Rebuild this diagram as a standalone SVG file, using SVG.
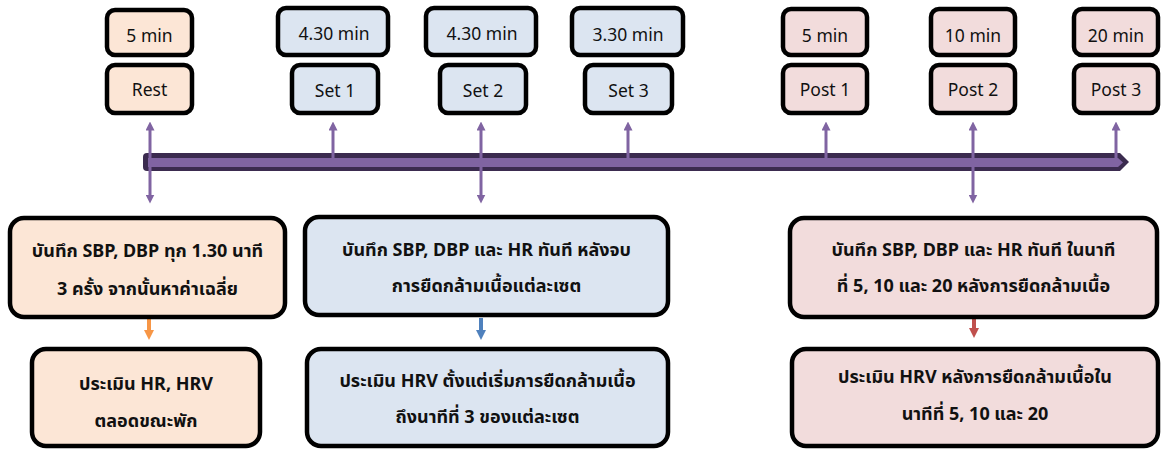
<svg xmlns="http://www.w3.org/2000/svg" width="1164" height="449" viewBox="0 0 1164 449">
<style>
.box{stroke:#000;stroke-width:4.5}
.or{fill:#fce6d6}
.bl{fill:#dce5f1}
.pk{fill:#f2dcdc}
.t{font-family:"Noto Sans","Noto Sans Thai","Leelawadee UI","Tahoma",sans-serif;font-size:17.5px;fill:#111;text-anchor:middle}
.b{font-family:"Noto Sans","Noto Sans Thai","Leelawadee UI","Tahoma",sans-serif;font-size:18px;font-weight:bold;fill:#111;text-anchor:middle}
.pu{stroke:#8064a2;stroke-width:3;fill:none}
</style>
<defs>
<marker id="ap" viewBox="0 0 10 10" refX="5" refY="5" markerWidth="3" markerHeight="3" orient="auto"><path d="M0,0 L10,5 L0,10 z" fill="#8064a2"/></marker>
<marker id="ao" viewBox="0 0 10 10" refX="5" refY="5" markerWidth="2.5" markerHeight="2.5" orient="auto"><path d="M0,0 L10,5 L0,10 z" fill="#f79646"/></marker>
<marker id="ab" viewBox="0 0 10 10" refX="5" refY="5" markerWidth="2.5" markerHeight="2.5" orient="auto"><path d="M0,0 L10,5 L0,10 z" fill="#4f81bd"/></marker>
<marker id="ar" viewBox="0 0 10 10" refX="5" refY="5" markerWidth="2.5" markerHeight="2.5" orient="auto"><path d="M0,0 L10,5 L0,10 z" fill="#c0504d"/></marker>
</defs>

<g id="timeline">
<path d="M147,153 L1120,153 L1129,162 L1120,171 L147,171 Q143,171 143,167 L143,157 Q143,153 147,153 z" fill="#3b2b4f"/>
<path d="M148,158 L1118,158 L1123,162.5 L1118,167 L148,167 z" fill="#8064a2"/>
</g>

<g id="connectors">
<line class="pu" x1="150" y1="158" x2="150" y2="126" marker-end="url(#ap)"/>
<line class="pu" x1="333" y1="158" x2="333" y2="126" marker-end="url(#ap)"/>
<line class="pu" x1="481" y1="158" x2="481" y2="126" marker-end="url(#ap)"/>
<line class="pu" x1="628" y1="158" x2="628" y2="126" marker-end="url(#ap)"/>
<line class="pu" x1="826" y1="158" x2="826" y2="126" marker-end="url(#ap)"/>
<line class="pu" x1="973" y1="158" x2="973" y2="126" marker-end="url(#ap)"/>
<line class="pu" x1="1116" y1="158" x2="1116" y2="126" marker-end="url(#ap)"/>
<line class="pu" x1="150" y1="167" x2="150" y2="199" marker-end="url(#ap)"/>
<line class="pu" x1="481" y1="167" x2="481" y2="199" marker-end="url(#ap)"/>
<line class="pu" x1="973" y1="167" x2="973" y2="199" marker-end="url(#ap)"/>
<line x1="149" y1="318" x2="149" y2="335" stroke="#f79646" stroke-width="4" marker-end="url(#ao)"/>
<line x1="481" y1="318" x2="481" y2="335" stroke="#4f81bd" stroke-width="4" marker-end="url(#ab)"/>
<line x1="974" y1="318" x2="974" y2="333" stroke="#c0504d" stroke-width="4" marker-end="url(#ar)"/>
</g>

<g id="t-rest"><rect class="box or" x="107" y="10" width="85" height="45" rx="8"/><text class="t" x="149.5" y="42">5 min</text></g>
<g id="n-rest"><rect class="box or" x="107" y="65" width="85" height="48" rx="8"/><text class="t" x="149.5" y="96">Rest</text></g>

<g id="t-set1"><rect class="box bl" x="278" y="8" width="110" height="47" rx="8"/><text class="t" x="334" y="40">4.30 min</text></g>
<g id="n-set1"><rect class="box bl" x="292" y="65" width="86" height="48" rx="8"/><text class="t" x="335" y="97">Set 1</text></g>

<g id="t-set2"><rect class="box bl" x="426" y="8" width="110" height="47" rx="8"/><text class="t" x="482" y="40">4.30 min</text></g>
<g id="n-set2"><rect class="box bl" x="440" y="65" width="86" height="48" rx="8"/><text class="t" x="483" y="97">Set 2</text></g>

<g id="t-set3"><rect class="box bl" x="572" y="8" width="111" height="47" rx="8"/><text class="t" x="628" y="41">3.30 min</text></g>
<g id="n-set3"><rect class="box bl" x="585" y="65" width="87" height="48" rx="8"/><text class="t" x="628.5" y="97">Set 3</text></g>

<g id="t-post1"><rect class="box pk" x="783" y="9" width="84" height="46" rx="8"/><text class="t" x="825" y="42">5 min</text></g>
<g id="n-post1"><rect class="box pk" x="783" y="65" width="84" height="48" rx="8"/><text class="t" x="825" y="96">Post 1</text></g>

<g id="t-post2"><rect class="box pk" x="931" y="9" width="84" height="46" rx="8"/><text class="t" x="973" y="42">10 min</text></g>
<g id="n-post2"><rect class="box pk" x="931" y="65" width="84" height="48" rx="8"/><text class="t" x="973" y="96">Post 2</text></g>

<g id="t-post3"><rect class="box pk" x="1074" y="9" width="84" height="46" rx="8"/><text class="t" x="1116" y="42">20 min</text></g>
<g id="n-post3"><rect class="box pk" x="1074" y="65" width="84" height="48" rx="8"/><text class="t" x="1116" y="96">Post 3</text></g>

<g id="rec-rest"><rect class="box or" x="10" y="218" width="275" height="99" rx="14"/>
<text class="b" x="147.5" y="257">บันทึก SBP, DBP ทุก 1.30 นาที</text>
<text class="b" x="147.5" y="295">3 ครั้ง จากนั้นหาค่าเฉลี่ย</text></g>

<g id="eval-rest"><rect class="box or" x="32" y="349" width="228" height="97" rx="14"/>
<text class="b" x="146" y="390">ประเมิน HR, HRV</text>
<text class="b" x="146" y="427">ตลอดขณะพัก</text></g>

<g id="rec-set"><rect class="box bl" x="305" y="217" width="363" height="98" rx="14"/>
<text class="b" x="486.5" y="256">บันทึก SBP, DBP และ HR ทันที หลังจบ</text>
<text class="b" x="486.5" y="292">การยืดกล้ามเนื้อแต่ละเซต</text></g>

<g id="eval-set"><rect class="box bl" x="307" y="349" width="361" height="97" rx="14"/>
<text class="b" x="487.5" y="387">ประเมิน HRV ตั้งแต่เริ่มการยืดกล้ามเนื้อ</text>
<text class="b" x="487.5" y="423">ถึงนาทีที่ 3 ของแต่ละเซต</text></g>

<g id="rec-post"><rect class="box pk" x="790" y="218" width="367" height="99" rx="14"/>
<text class="b" x="973.5" y="256">บันทึก SBP, DBP และ HR ทันที ในนาที</text>
<text class="b" x="973.5" y="292">ที่ 5, 10 และ 20 หลังการยืดกล้ามเนื้อ</text></g>

<g id="eval-post"><rect class="box pk" x="792" y="349" width="366" height="97" rx="14"/>
<text class="b" x="975" y="383">ประเมิน HRV หลังการยืดกล้ามเนื้อใน</text>
<text class="b" x="975" y="420">นาทีที่ 5, 10 และ 20</text></g>
</svg>
